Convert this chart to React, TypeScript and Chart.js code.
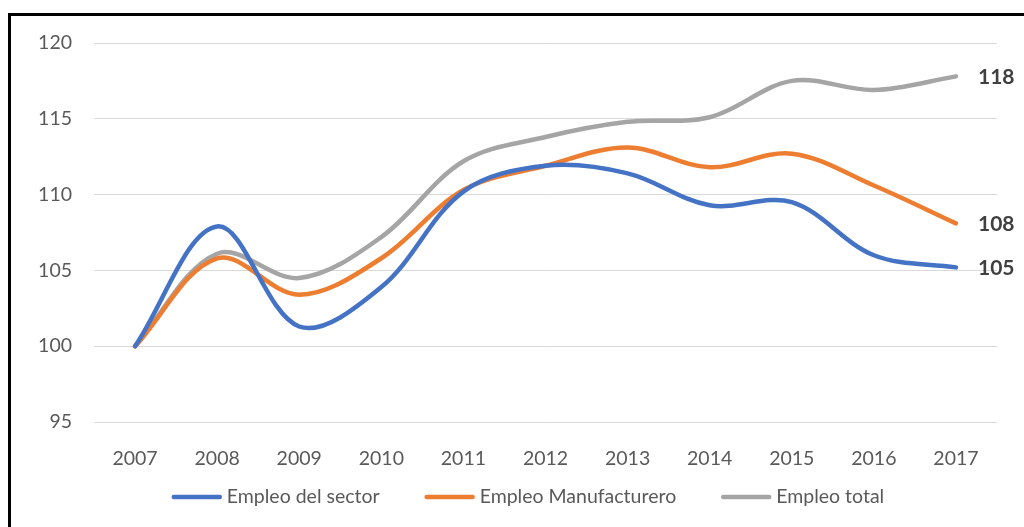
import React, { useEffect, useRef } from "react";
import { Chart, registerables } from "chart.js";

Chart.register(...registerables);

const years = ["2007", "2008", "2009", "2010", "2011", "2012", "2013", "2014", "2015", "2016", "2017"];
const sectorValues = [100, 107.9, 101.3, 103.9, 110.2, 111.9, 111.4, 109.3, 109.5, 106.0, 105.2];
const manufactureValues = [100, 105.8, 103.4, 105.8, 110.3, 111.9, 113.1, 111.8, 112.7, 110.6, 108.1];
const totalValues = [100, 106.1, 104.5, 107.2, 112.2, 113.8, 114.8, 115.1, 117.5, 116.9, 117.8];
const seriesNames = ["Empleo del sector", "Empleo Manufacturero", "Empleo total"];
const endLabels = ["105", "108", "118"];
const yTicks = [95, 100, 105, 110, 115, 120];

const FONT = "Lato, 'Open Sans', sans-serif";

const endLabelPlugin = {
  id: "endLabels",
  afterDatasetsDraw(chart: any) {
    const ctx = chart.ctx;
    ctx.save();
    ctx.font = `bold 21px ${FONT}`;
    ctx.fillStyle = "#404040";
    ctx.textAlign = "left";
    ctx.textBaseline = "middle";
    chart.data.datasets.forEach((ds: any, i: number) => {
      const meta = chart.getDatasetMeta(i);
      const pt = meta.data[meta.data.length - 1];
      ctx.fillText(ds.endLabel, pt.x + 22, pt.y + 1);
    });
    ctx.restore();
  },
};

const legendPlugin = {
  id: "customLegend",
  afterDraw(chart: any) {
    const ctx = chart.ctx;
    ctx.save();
    ctx.font = `19.5px ${FONT}`;
    const lineW = 50;
    const gapLT = 5;
    const gapItems = 45;
    const widths = chart.data.datasets.map((ds: any) => lineW + gapLT + ctx.measureText(ds.label).width);
    const total = widths.reduce((a: number, b: number) => a + b, 0) + gapItems * (widths.length - 1);
    let x = 528 - total / 2;
    const y = 497;
    chart.data.datasets.forEach((ds: any, i: number) => {
      ctx.strokeStyle = ds.borderColor;
      ctx.lineWidth = 4.5;
      ctx.lineCap = "round";
      ctx.beginPath();
      ctx.moveTo(x + 2, y);
      ctx.lineTo(x + lineW - 2, y);
      ctx.stroke();
      ctx.fillStyle = "#595959";
      ctx.textAlign = "left";
      ctx.textBaseline = "middle";
      ctx.fillText(ds.label, x + lineW + gapLT, y);
      x += widths[i] + gapItems;
    });
    ctx.restore();
  },
};

export default function App() {
  const ref = useRef<HTMLCanvasElement>(null);
  useEffect(() => {
    document.body.style.margin = "0";
    document.body.style.overflow = "hidden";
    const mk = (label: string, data: number[], color: string, endLabel: string) => ({
      label,
      data,
      borderColor: color,
      backgroundColor: color,
      borderWidth: 4.5,
      pointRadius: 0,
      tension: 0.35,
      borderCapStyle: "round",
      borderJoinStyle: "round",
      fill: false,
      endLabel,
    });
    const chart = new Chart(ref.current!, {
      type: "line",
      data: {
        labels: years,
        datasets: [
          mk(seriesNames[0], sectorValues, "#4472C4", endLabels[0]),
          mk(seriesNames[1], manufactureValues, "#ED7D31", endLabels[1]),
          mk(seriesNames[2], totalValues, "#A5A5A5", endLabels[2]),
        ] as any,
      },
      options: {
        animation: false,
        responsive: false,
        layout: { padding: { left: 0, top: 43, right: 27, bottom: 45 } },
        plugins: { legend: { display: false }, tooltip: { enabled: false } },
        scales: {
          x: {
            offset: true,
            grid: { display: false },
            border: { display: false },
            ticks: { color: "#595959", font: { family: FONT, size: 19.5 }, padding: 17, maxRotation: 0 },
            afterFit: (s: any) => {
              s.height = 60;
            },
          },
          y: {
            min: 95,
            max: 120,
            afterBuildTicks: (s: any) => {
              s.ticks = yTicks.map((v) => ({ value: v }));
            },
            grid: { color: "#D9D9D9", lineWidth: 1, drawTicks: false },
            border: { display: false },
            ticks: { color: "#595959", font: { family: FONT, size: 19.5 }, padding: 22 },
            afterFit: (s: any) => {
              s.width = 94;
            },
          },
        },
      },
      plugins: [endLabelPlugin, legendPlugin],
    });
    return () => chart.destroy();
  }, []);
  return (
    <div style={{ position: "fixed", left: 0, top: 0, width: 1024, height: 527 }}>
      <div
        style={{
          position: "absolute",
          left: 8,
          top: 13,
          width: 1016,
          height: 514,
          boxSizing: "border-box",
          borderLeft: "3px solid #000",
          borderTop: "3px solid #000",
        }}
      />
      <canvas ref={ref} width={1024} height={527} style={{ position: "absolute", left: 0, top: 0 }} />
    </div>
  );
}
